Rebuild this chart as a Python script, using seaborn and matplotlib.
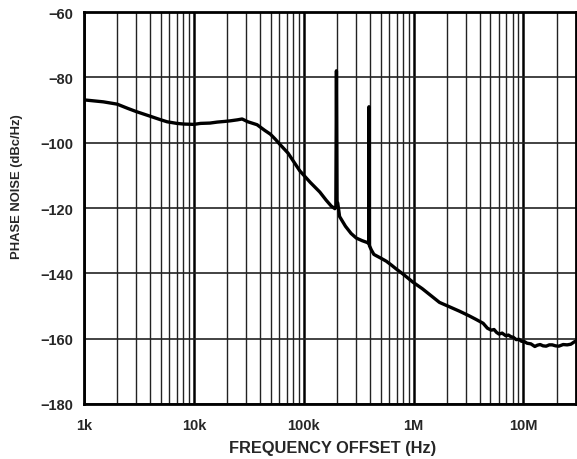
import numpy as np
import pandas as pd
import matplotlib
matplotlib.use("Agg")
import matplotlib.pyplot as plt
from matplotlib import font_manager
from matplotlib.ticker import FixedLocator, FixedFormatter, LogLocator, NullFormatter
import seaborn as sns

# Data
freq_hz = [1000, 1500, 2000, 2500, 3000, 4000, 5000, 5700, 7000, 8100, 10000, 11500,
           14000, 16300, 19000, 21600, 25000, 27500, 31000, 37600, 44000, 49700, 55000,
           61000, 72000, 92000, 115000, 140000, 160000, 178000, 192000, 196000, 198500,
           201000, 204000, 208000, 212000, 240000, 270000, 301000, 340000, 374000, 390000,
           393000, 396000, 412000, 435000, 457000, 500000, 565000, 630000, 697000, 800000,
           986000, 1200000, 1500000, 1720000, 1980000, 2620000, 3200000, 3700000, 4300000,
           4700000, 5100000, 5400000, 5700000, 6000000, 6400000, 6900000, 7300000, 7700000,
           8100000, 8600000, 9100000, 9600000, 10200000, 10800000, 11700000, 12700000,
           13400000, 14200000, 15100000, 16100000, 17200000, 18300000, 19600000, 21000000,
           23000000, 25000000, 27000000, 29300000, 30000000]
noise_dbc = [-86.9, -87.5, -88.2, -89.5, -90.5, -91.9, -93.0, -93.6, -94.1, -94.3, -94.4, -94.1,
             -94.0, -93.7, -93.5, -93.3, -93.0, -92.75, -93.6, -94.5, -96.2, -97.4, -98.9,
             -100.6, -103.2, -108.6, -112.2, -115.1, -117.6, -119.4, -120.2, -119.8, -78.0,
             -118.0, -118.5, -120.5, -122.6, -125.6, -127.8, -129.2, -130.0, -130.5, -130.8,
             -89.0, -131.5, -132.8, -134.2, -134.6, -135.3, -136.3, -137.5, -138.7, -140.2,
             -142.7, -144.7, -147.3, -148.9, -149.8, -151.6, -153.0, -154.1, -155.3,
             -156.8, -157.4, -157.2, -158.1, -158.6, -158.3, -159.1, -158.9, -159.4,
             -159.6, -160.3, -160.2, -160.8, -160.9, -161.4, -161.6, -162.4,
             -162.0, -161.8, -162.2, -162.3, -161.9, -161.9, -162.2, -162.3,
             -161.8, -161.9, -161.7, -160.9, -160.8]

x_major_ticks = [1e3, 1e4, 1e5, 1e6, 1e7]
x_tick_labels = ["1k", "10k", "100k", "1M", "10M"]
y_ticks = [-180, -160, -140, -120, -100, -80, -60]

df = pd.DataFrame({"freq": freq_hz, "noise": noise_dbc})

sns.set_theme(style="white")
plt.rcParams["font.family"] = ["Liberation Sans", "DejaVu Sans"]
plt.rcParams["font.weight"] = "bold"

installed = {f.name for f in font_manager.fontManager.ttflist}
if "Liberation Sans Narrow" in installed:
    ylab_family, ylab_size = ["Liberation Sans Narrow", "DejaVu Sans"], 11.0
else:
    ylab_family, ylab_size = ["Liberation Sans", "DejaVu Sans"], 9.4

fig = plt.figure(figsize=(5.77, 4.6), dpi=100)
ax = fig.add_axes([0.1456, 0.1196, 0.8524, 0.8521])

sns.lineplot(data=df, x="freq", y="noise", ax=ax, color="black", linewidth=2.4,
             estimator=None, sort=False, zorder=5)

ax.set_xscale("log")
ax.set_xlim(1e3, 3e7)
ax.set_ylim(-180, -60)

ax.xaxis.set_major_locator(FixedLocator(x_major_ticks))
ax.xaxis.set_major_formatter(FixedFormatter(x_tick_labels))
ax.xaxis.set_minor_locator(LogLocator(base=10, subs=np.arange(2, 10)))
ax.xaxis.set_minor_formatter(NullFormatter())
ax.set_yticks(y_ticks)
ax.set_yticklabels([f"\u2212{abs(v)}" for v in y_ticks])

ax.grid(True, which="major", axis="x", color="black", linewidth=1.8)
ax.grid(True, which="minor", axis="x", color="#222222", linewidth=1.0)
ax.grid(True, which="major", axis="y", color="#222222", linewidth=1.2)

ax.tick_params(axis="both", which="both", length=0, labelsize=10.5)
ax.tick_params(axis="x", pad=10)
ax.tick_params(axis="y", pad=8)
for lab in ax.get_xticklabels() + ax.get_yticklabels():
    lab.set_fontweight("bold")

for s in ax.spines.values():
    s.set_color("black")
    s.set_linewidth(2.0)

ax.set_xlabel("FREQUENCY OFFSET (Hz)", fontsize=11.8, fontweight="bold")
ax.set_ylabel("PHASE NOISE (dBc/Hz)", fontsize=ylab_size, fontweight="bold",
              family=ylab_family)
ax.xaxis.label.set_verticalalignment("center")
ax.yaxis.label.set_verticalalignment("center")
ax.xaxis.set_label_coords(0.506, -0.112)
ax.yaxis.set_label_coords(-0.136, 0.556)

fig.savefig("out.png", dpi=100)
